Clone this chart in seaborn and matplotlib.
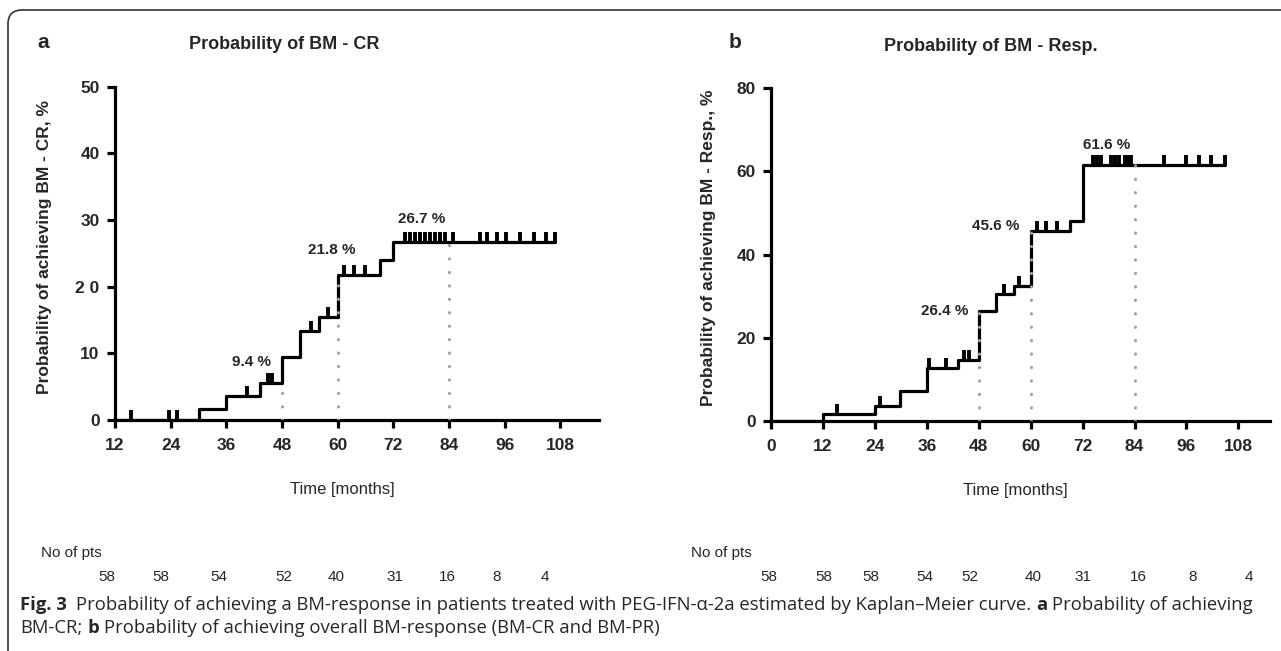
import matplotlib
matplotlib.use("Agg")
import matplotlib.pyplot as plt
import matplotlib.transforms as mtransforms
from matplotlib.patches import FancyBboxPatch
import pandas as pd
import seaborn as sns

# ---- panel a : BM - CR ----
cr_time = [12, 30.1, 36, 43.2, 48, 51.9, 56, 60, 69, 72, 106.8]
cr_prob = [0, 1.7, 3.6, 5.5, 9.4, 13.3, 15.4, 21.8, 24.0, 26.7, 26.7]
cr_cens_time = [15.4, 23.7, 25.4, 40.4, 44.9, 45.8, 54.2, 57.8, 61.4, 63.6, 65.9,
                74.6, 75.6, 76.7, 77.7, 78.8, 79.9, 81.0, 82.0, 83.1, 84.8,
                90.7, 92.1, 94.3, 96.3, 99.2, 102.2, 104.8, 106.8]
cr_cens_prob = [0, 0, 0, 3.6, 5.5, 5.5, 13.3, 15.4, 21.8, 21.8, 21.8,
                26.7, 26.7, 26.7, 26.7, 26.7, 26.7, 26.7, 26.7, 26.7, 26.7,
                26.7, 26.7, 26.7, 26.7, 26.7, 26.7, 26.7, 26.7]
cr_mark_time = [48, 60, 84]
cr_mark_top = [5.5, 21.8, 26.7]
cr_labels = ["9.4 %", "21.8 %", "26.7 %"]
cr_xticks = [12, 24, 36, 48, 60, 72, 84, 96, 108]
cr_yticks = [0, 10, 20, 30, 40, 50]
cr_yticklabels = ["0", "10", "2 0", "30", "40", "50"]
cr_at_risk = [58, 58, 54, 52, 40, 31, 16, 8, 4]

# ---- panel b : BM - Resp. ----
rs_time = [0, 12, 24, 29.8, 36, 43.1, 48, 52.1, 56.2, 60, 69.1, 72, 105.0]
rs_prob = [0, 1.8, 3.7, 7.2, 12.7, 14.6, 26.4, 30.6, 32.5, 45.6, 48.1, 61.6, 61.6]
rs_cens_time = [15.2, 25.1, 36.4, 40.5, 44.7, 45.7, 53.9, 57.4, 61.4, 63.5, 66.0,
                74.3, 75.3, 76.3, 78.6, 79.4, 80.5, 81.7, 82.4, 83.2,
                90.7, 96.0, 99.0, 101.7, 104.8]
rs_cens_prob = [1.8, 3.7, 12.7, 12.7, 14.6, 14.6, 30.6, 32.5, 45.6, 45.6, 45.6,
                61.6, 61.6, 61.6, 61.6, 61.6, 61.6, 61.6, 61.6, 61.6,
                61.6, 61.6, 61.6, 61.6, 61.6]
rs_mark_time = [48, 60, 84]
rs_mark_top = [26.4, 45.6, 61.6]
rs_labels = ["26.4 %", "45.6 %", "61.6 %"]
rs_xticks = [0, 12, 24, 36, 48, 60, 72, 84, 96, 108]
rs_yticks = [0, 20, 40, 60, 80]
rs_yticklabels = ["0", "20", "40", "60", "80"]
rs_at_risk = [58, 58, 58, 54, 52, 40, 31, 16, 8, 4]

# where things sit (data units of each panel)
cr_label_pos = [(41.5, 8.7), (58.7, 25.5), (78.0, 30.2)]
rs_label_pos = [(40.2, 26.5), (52.0, 46.8), (77.6, 66.4)]
cr_risk_x = [10.3, 21.8, 34.4, 48.4, 59.7, 72.4, 83.6, 94.2, 104.7]
rs_risk_x = [-0.5, 12.3, 23.0, 35.5, 46.0, 60.5, 72.0, 85.0, 97.5, 110.5]

sns.set_style("ticks")
plt.rcParams["font.family"] = ["Liberation Sans", "DejaVu Sans"]

W, H = 1281, 651
fig = plt.figure(figsize=(W / 100, H / 100), dpi=100)


def px_axes(x0, x1, y_top, y_bot):
    return fig.add_axes([x0 / W, 1 - y_bot / H, (x1 - x0) / W, (y_bot - y_top) / H])


ax_a = px_axes(115, 599, 86.7, 420)
ax_b = px_axes(771, 1270, 88.3, 421)

LW = 2.3


def draw_panel(ax, time, prob, ct, cp, mt, mtop, labels, label_pos,
               xticks, yticks, yticklabels, xlim, ylim, title, title_x, ylabel,
               risk, risk_x, ylab_x, xlab_x):
    df = pd.DataFrame({"time": time, "prob": prob})
    sns.lineplot(data=df, x="time", y="prob", ax=ax, color="black",
                 linewidth=LW, drawstyle="steps-post", estimator=None,
                 sort=False, zorder=3)
    ax.plot(ct, cp, linestyle="none", marker=2, markersize=7,
            markeredgewidth=2.8, color="black", zorder=4, clip_on=False)
    ax.vlines(mt, [0] * len(mt), mtop, colors="#a0a0a0", linewidth=2.2,
              linestyles=(0, (0.1, 4.3)), capstyle="round", zorder=5)
    for lab, (lx, ly) in zip(labels, label_pos):
        ax.text(lx, ly, lab, ha="center", va="center", fontsize=11,
                fontweight="bold")

    ax.set_xlim(*xlim)
    ax.set_ylim(*ylim)
    ax.set_xticks(xticks)
    ax.set_xticklabels([str(t) for t in xticks], fontweight="bold", fontsize=12.5)
    ax.set_yticks(yticks)
    ax.set_yticklabels(yticklabels, fontweight="bold", fontsize=12.5)
    ax.tick_params(direction="out", length=6, width=LW, color="black")
    ax.tick_params(axis="x", pad=7)
    ax.tick_params(axis="y", pad=5)
    sns.despine(ax=ax)
    for s in ("left", "bottom"):
        ax.spines[s].set_linewidth(LW)
        ax.spines[s].set_color("black")
        ax.spines[s].set_capstyle("projecting")

    ax.set_xlabel("Time [months]", fontsize=12)
    ax.xaxis.set_label_coords(xlab_x, -0.185)
    ax.set_ylabel(ylabel, fontsize=12.5, fontweight="bold")
    ax.yaxis.set_label_coords(ylab_x, 0.52)
    ax.set_title(title, fontsize=13, fontweight="bold", pad=27, x=title_x)

    # numbers at risk
    trans = mtransforms.blended_transform_factory(ax.transData, fig.transFigure)
    for n, rx in zip(risk, risk_x):
        ax.text(rx, 1 - 577 / H, str(n), transform=trans, ha="center",
                va="center", fontsize=11, clip_on=False)


draw_panel(ax_a, cr_time, cr_prob, cr_cens_time, cr_cens_prob, cr_mark_time,
           cr_mark_top, cr_labels, cr_label_pos, cr_xticks, cr_yticks,
           cr_yticklabels, (12, 116.3), (0, 50), "Probability of BM - CR", 0.35,
           "Probability of achieving BM - CR, %", cr_at_risk, cr_risk_x, -0.13, 0.47)
draw_panel(ax_b, rs_time, rs_prob, rs_cens_time, rs_cens_prob, rs_mark_time,
           rs_mark_top, rs_labels, rs_label_pos, rs_xticks, rs_yticks,
           rs_yticklabels, (0, 115.3), (0, 80), "Probability of BM - Resp.", 0.44,
           "Probability of achieving BM - Resp., %", rs_at_risk, rs_risk_x, -0.11, 0.49)

fig.text(43 / W, 1 - 42 / H, "a", fontsize=15, fontweight="bold", ha="center", va="center")
fig.text(735 / W, 1 - 42 / H, "b", fontsize=15, fontweight="bold", ha="center", va="center")
fig.text(41 / W, 1 - 553 / H, "No of pts", fontsize=11, ha="left", va="center")
fig.text(691 / W, 1 - 553 / H, "No of pts", fontsize=11, ha="left", va="center")

# rounded frame around the figure area
frame = FancyBboxPatch((8, -60), 1400, H - 10 + 60, boxstyle="round,pad=0,rounding_size=14",
                       transform=None, facecolor="none", edgecolor="#333333",
                       linewidth=1.2, zorder=0)
fig.patches.append(frame)

# caption, drawn as runs of normal / bold text
cap_font = ["Open Sans", "DejaVu Sans"]
cap_size = 13.3
renderer = fig.canvas.get_renderer()


def text_w(s, bold):
    t = fig.text(0, 0, s, fontsize=cap_size, family=cap_font,
                 fontweight="bold" if bold else "normal")
    w = t.get_window_extent(renderer).width
    t.remove()
    return w


space_w = text_w("a a", False) - text_w("aa", False)


def draw_runs(x_px, y_px, runs):
    for s, bold, gap in runs:
        t = fig.text(x_px / W, 1 - y_px / H, s, fontsize=cap_size, family=cap_font,
                     fontweight="bold" if bold else "normal", va="center", ha="left")
        x_px += t.get_window_extent(renderer).width + gap * space_w


draw_runs(20, 605, [
    ("Fig. 3", True, 2),
    ("Probability of achieving a BM-response in patients treated with PEG-IFN-\u03b1-2a "
     "estimated by Kaplan\u2013Meier curve.", False, 1),
    ("a", True, 1),
    ("Probability of achieving", False, 0),
])
draw_runs(20, 628, [
    ("BM-CR;", False, 1),
    ("b", True, 1),
    ("Probability of achieving overall BM-response (BM-CR and BM-PR)", False, 0),
])

fig.savefig("out.png", dpi=100)
